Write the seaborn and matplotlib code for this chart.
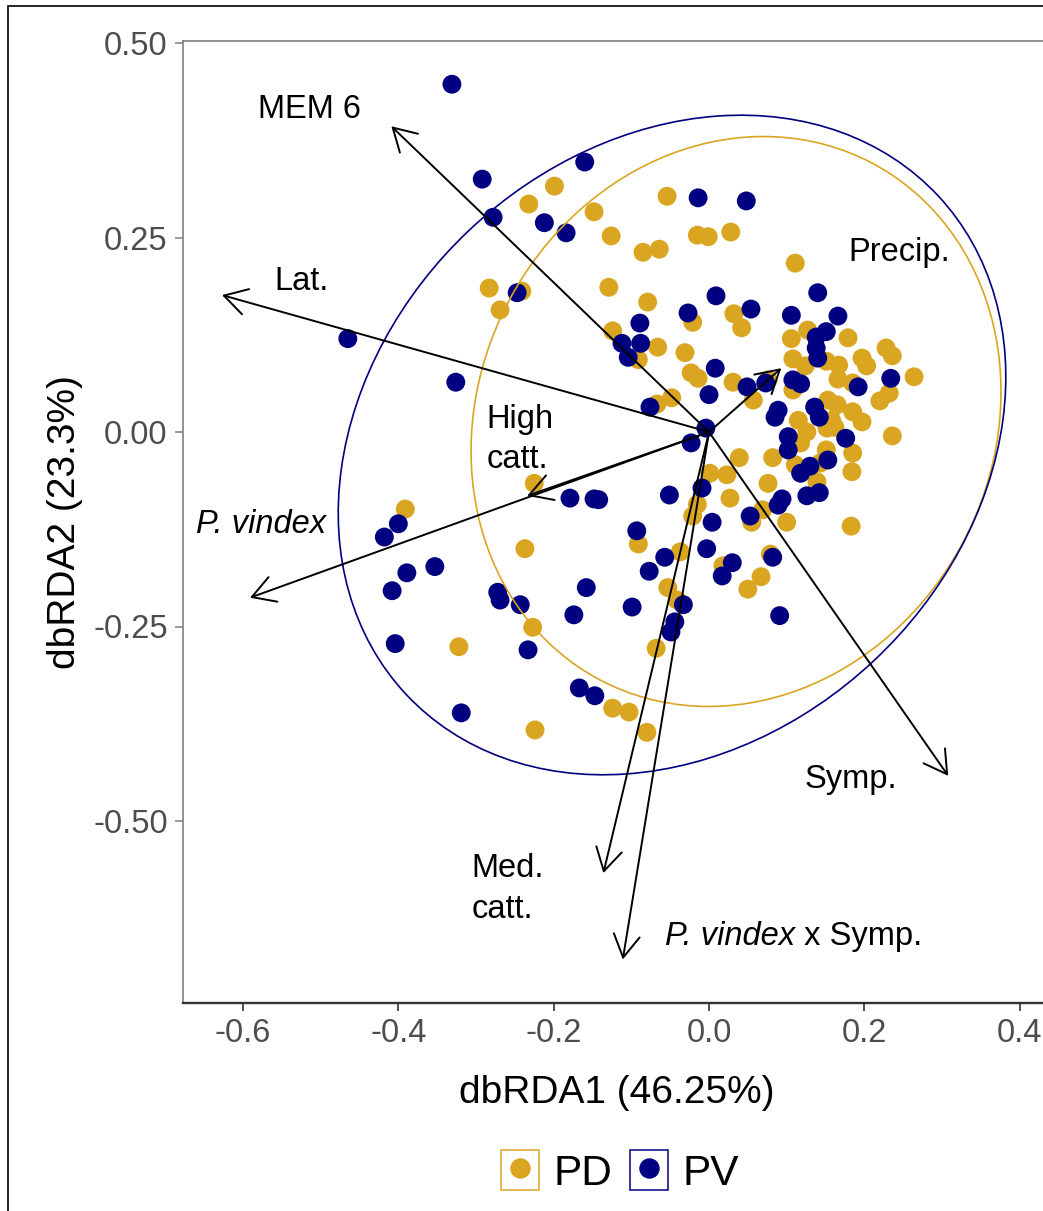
import numpy as np
import pandas as pd
import matplotlib
matplotlib.use("Agg")
import matplotlib.pyplot as plt
import seaborn as sns
from matplotlib.patches import Ellipse, Rectangle
from matplotlib.lines import Line2D
from matplotlib.legend_handler import HandlerTuple

# ---------------- data ----------------
groups = ["PD", "PV"]
group_colors = ["#DAA520", "#000080"]

pd_x = [-0.199, -0.232, -0.148, -0.126, -0.085, -0.064, -0.054, -0.015, -0.001, 0.028, 0.111, -0.283, -0.241,
        -0.269, -0.129, -0.079, -0.021, 0.032, 0.042, -0.124, -0.066, -0.031, -0.091, -0.023, -0.014, 0.031,
        0.057, -0.067, -0.048, 0.039, 0.082, 0.001, 0.023, 0.027, -0.015, -0.021, 0.076, 0.069, 0.055, 0.100,
        -0.391, -0.225, -0.237, -0.322, -0.091, -0.037, -0.053, -0.041, -0.068, -0.227, -0.124, -0.103, -0.080,
        -0.224, 0.018, 0.067, 0.050, 0.079, 0.127, 0.106, 0.179, 0.108, 0.124, 0.151, 0.167, 0.197, 0.203,
        0.228, 0.236, 0.264, 0.166, 0.185, 0.232, 0.220, 0.108, 0.076, 0.153, 0.165, 0.115, 0.158, 0.185,
        0.197, 0.126, 0.152, 0.162, 0.118, 0.236, 0.185, 0.111, 0.143, 0.151, 0.184, 0.139, 0.183]
pd_y = [0.316, 0.293, 0.283, 0.252, 0.231, 0.235, 0.303, 0.253, 0.251, 0.257, 0.217, 0.185, 0.181,
        0.157, 0.186, 0.167, 0.141, 0.152, 0.134, 0.130, 0.109, 0.102, 0.093, 0.076, 0.069, 0.064,
        0.041, 0.036, 0.044, -0.033, -0.033, -0.053, -0.055, -0.085, -0.093, -0.108, -0.066, -0.100, -0.116, -0.116,
        -0.099, -0.066, -0.150, -0.276, -0.144, -0.154, -0.200, -0.216, -0.278, -0.251, -0.355, -0.360, -0.386,
        -0.383, -0.172, -0.186, -0.202, -0.157, 0.131, 0.120, 0.121, 0.094, 0.085, 0.091, 0.086, 0.095, 0.085,
        0.108, 0.098, 0.071, 0.068, 0.063, 0.050, 0.040, 0.054, 0.067, 0.041, 0.035, 0.015, 0.015, 0.026,
        0.013, 0.000, 0.005, 0.006, -0.014, -0.005, -0.027, -0.042, -0.040, -0.023, -0.051, -0.064, -0.121]

pv_x = [-0.331, -0.292, -0.160, -0.278, -0.212, -0.184, -0.014, 0.048, -0.465, -0.326, -0.247, -0.089,
        -0.112, -0.088, -0.104, -0.027, 0.009, 0.054, 0.008, 0.000, -0.076, -0.004, -0.023, -0.179, -0.148,
        -0.142, -0.051, -0.009, 0.004, -0.093, 0.049, -0.400, -0.418, -0.389, -0.353, -0.408, -0.272, -0.269,
        -0.243, -0.404, -0.319, -0.158, -0.174, -0.099, -0.057, -0.077, -0.033, -0.044, -0.049, -0.233, -0.167,
        -0.147, -0.003, 0.030, 0.017, 0.091, 0.082, 0.053, 0.089, 0.094, 0.126, 0.102, 0.130, 0.153, 0.142,
        0.140, 0.106, 0.166, 0.151, 0.138, 0.138, 0.140, 0.234, 0.192, 0.108, 0.118, 0.073, 0.136, 0.089,
        0.085, 0.142, 0.102, 0.176, 0.118]
pv_y = [0.447, 0.325, 0.347, 0.276, 0.269, 0.256, 0.301, 0.297, 0.120, 0.064, 0.179, 0.140,
        0.114, 0.114, 0.096, 0.153, 0.175, 0.158, 0.082, 0.048, 0.032, 0.005, -0.014, -0.085, -0.086,
        -0.087, -0.081, -0.072, -0.116, -0.127, 0.058, -0.118, -0.135, -0.181, -0.173, -0.204, -0.206, -0.216,
        -0.222, -0.272, -0.361, -0.200, -0.235, -0.225, -0.161, -0.179, -0.222, -0.244, -0.257, -0.280, -0.329,
        -0.339, -0.150, -0.168, -0.185, -0.236, -0.161, -0.108, -0.094, -0.086, -0.082, -0.023, -0.044, -0.036,
        -0.078, 0.179, 0.150, 0.149, 0.129, 0.122, 0.108, 0.095, 0.069, 0.058, 0.067, 0.062, 0.063, 0.032,
        0.028, 0.019, 0.019, -0.006, -0.008, -0.053]

# 95% ellipses (center, semi-axes, rotation in degrees)
ell_cx = [0.0348, -0.0476]
ell_cy = [0.0135, -0.0167]
ell_a = [0.3755, 0.469]
ell_b = [0.331, 0.380]
ell_angle = [62.2, 43.1]

# biplot vectors
arrow_names = ["MEM 6", "Lat.", "Precip.", "High catt.", "P. vindex", "Symp.", "Med. catt.", "P. vindex x Symp."]
arrow_x = [-0.409, -0.627, 0.093, -0.234, -0.591, 0.308, -0.136, -0.111]
arrow_y = [0.393, 0.176, 0.082, -0.082, -0.213, -0.442, -0.567, -0.678]

xticks = [-0.6, -0.4, -0.2, 0.0, 0.2, 0.4]
xtick_labels = ["-0.6", "-0.4", "-0.2", "0.0", "0.2", "0.4"]
yticks = [-0.50, -0.25, 0.00, 0.25, 0.50]
ytick_labels = ["-0.50", "-0.25", "0.00", "0.25", "0.50"]

# ---------------- style ----------------
sns.set_style("white")
plt.rcParams["font.family"] = ["Liberation Sans", "DejaVu Sans"]
plt.rcParams["axes.unicode_minus"] = False
plt.rcParams["text.color"] = "black"
plt.rcParams["axes.labelcolor"] = "black"

W, H = 1043, 1211
fig = plt.figure(figsize=(W / 100, H / 100), dpi=100)
fig.patch.set_facecolor("white")
ax_l, ax_r, ax_t, ax_b = 183, 1050, 41, 1003
ax = fig.add_axes([ax_l / W, 1 - ax_b / H, (ax_r - ax_l) / W, (ax_b - ax_t) / H])
ax.set_facecolor("white")

df = pd.DataFrame({
    "x": pd_x + pv_x,
    "y": pd_y + pv_y,
    "group": ["PD"] * len(pd_x) + ["PV"] * len(pv_x),
})
palette = dict(zip(groups, group_colors))

sns.scatterplot(data=df, x="x", y="y", hue="group", palette=palette, s=185,
                linewidth=0, legend=False, ax=ax, zorder=2)

for cx, cy, a, b, ang, col in zip(ell_cx, ell_cy, ell_a, ell_b, ell_angle, group_colors):
    ax.add_patch(Ellipse((cx, cy), 2 * a, 2 * b, angle=ang, fill=False,
                         edgecolor=col, lw=1.2, zorder=2.5))

for ex, ey in zip(arrow_x, arrow_y):
    ax.annotate("", xy=(ex, ey), xytext=(0, 0),
                arrowprops=dict(arrowstyle="->,head_length=1.62,head_width=0.94",
                                lw=1.4, color="black", shrinkA=0, shrinkB=0,
                                mutation_scale=10), zorder=3)

fs_lab = 23.5
ax.text(-0.514, 0.404, "MEM 6", ha="center", va="baseline", fontsize=fs_lab)
ax.text(-0.525, 0.182, "Lat.", ha="center", va="baseline", fontsize=fs_lab)
ax.text(0.2445, 0.2197, "Precip.", ha="center", va="baseline", fontsize=fs_lab)
ax.text(-0.286, -0.0463, "High\ncatt.", ha="left", va="baseline", fontsize=fs_lab,
        linespacing=1.36, multialignment="left")
ax.text(-0.577, -0.130, "P. vindex", ha="center", va="baseline", fontsize=fs_lab, fontstyle="italic")
ax.text(0.1828, -0.4575, "Symp.", ha="center", va="baseline", fontsize=fs_lab)
ax.text(-0.306, -0.6247, "Med.\ncatt.", ha="left", va="baseline", fontsize=fs_lab,
        linespacing=1.4, multialignment="left")
t_it = ax.text(-0.0566, -0.659, "P. vindex", ha="left", va="baseline", fontsize=fs_lab,
               fontstyle="italic")
ax.annotate(" x Symp.", xy=(1, 0), xycoords=t_it, ha="left", va="bottom", fontsize=fs_lab)

ax.set_xlim((ax_l - 709) / 776.7, (ax_r - 709) / 776.7)
ax.set_ylim((432 - ax_b) / 778, (432 - ax_t) / 778)

ax.set_xticks(xticks, labels=xtick_labels)
ax.set_yticks(yticks, labels=ytick_labels)
ax.tick_params(axis="x", length=5.5, width=1.2, color="#333333", labelcolor="#4D4D4D",
               labelsize=23.5, pad=5, direction="out", bottom=True)
ax.tick_params(axis="y", length=5.5, width=1.1, color="#7F7F7F", labelcolor="#4D4D4D",
               labelsize=23.5, pad=5.5, direction="out", left=True)

for side in ["top", "left", "right"]:
    ax.spines[side].set_color("#7F7F7F")
    ax.spines[side].set_linewidth(1.2)
ax.spines["bottom"].set_color("#333333")
ax.spines["bottom"].set_linewidth(1.7)

ax.set_xlabel("dbRDA1 (46.25%)", fontsize=28, color="black")
ax.set_ylabel("dbRDA2 (23.3%)", fontsize=28, color="black")
ax.xaxis.set_label_coords(0.5, (ax_b - 1075) / (ax_b - ax_t))
ax.yaxis.set_label_coords((83 - ax_l) / (ax_r - ax_l), 0.5)

# legend
handles = [(Rectangle((0, 0), 1, 1, facecolor="none", edgecolor=c, lw=1.1),
            Line2D([], [], ls="", marker="o", ms=13.7, markerfacecolor=c, markeredgecolor=c))
           for c in group_colors]
fig.legend(handles=handles, labels=groups, handler_map={tuple: HandlerTuple(ndivide=1, pad=0)},
           loc="center", bbox_to_anchor=(620 / W, 1 - 1172 / H), ncol=2, frameon=False,
           fontsize=30.5, handlelength=0.9, handleheight=1.07, handletextpad=0.35,
           columnspacing=0.4, borderpad=0, borderaxespad=0, labelcolor="black")

# outer plot border
fig.add_artist(Rectangle((8 / W, -0.05), 1.5, 1 - 6 / H + 0.05, transform=fig.transFigure,
                         fill=False, edgecolor="black", lw=1.2, clip_on=False))

fig.savefig("out.png", dpi=100)
